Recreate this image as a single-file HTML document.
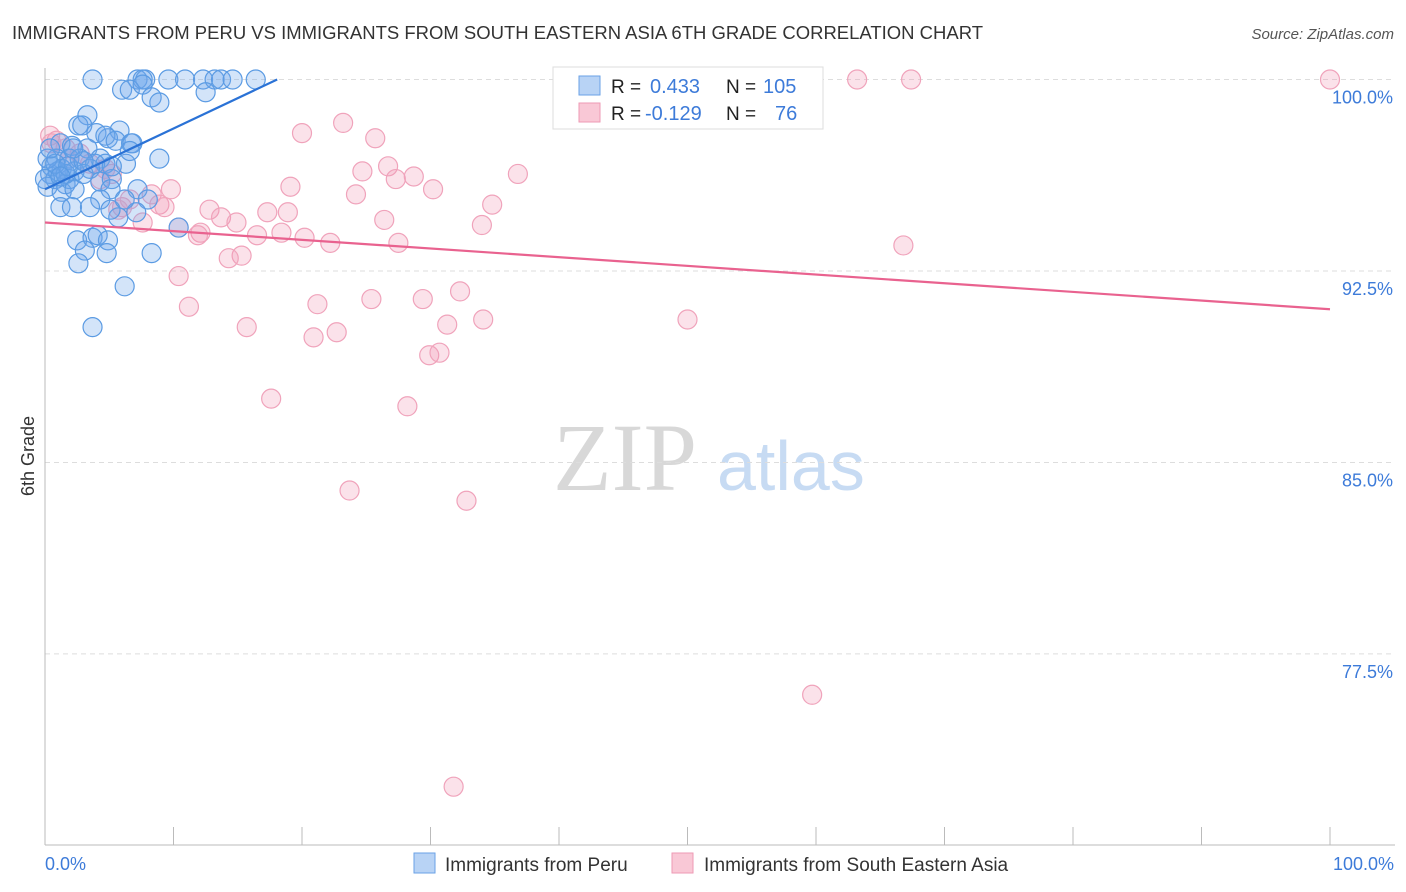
<!DOCTYPE html>
<html><head><meta charset="utf-8"><style>
body{margin:0;background:#fff;font-family:"Liberation Sans",sans-serif}
svg{display:block}
</style></head><body>
<svg id="chart" width="1406" height="892" xmlns="http://www.w3.org/2000/svg">
<text x="12" y="39" font-size="18" fill="#333" textLength="971" lengthAdjust="spacingAndGlyphs">IMMIGRANTS FROM PERU VS IMMIGRANTS FROM SOUTH EASTERN ASIA 6TH GRADE CORRELATION CHART</text>
<text x="1394" y="39" font-size="15" fill="#555" text-anchor="end" font-style="italic">Source: ZipAtlas.com</text>
<text x="553" y="490" font-size="96" font-family="Liberation Serif,serif" fill="#d8d8d8">ZIP</text>
<text x="717" y="490" font-size="70" fill="#c7dbf3">atlas</text>
<g id="grid"></g>
<g id="axes"></g>
<g id="pts"></g>
<g id="lines"></g>
<text transform="translate(34,456) rotate(-90)" font-size="18" fill="#333" text-anchor="middle">6th Grade</text>
<text x="45" y="870" font-size="18" fill="#3d7bd9">0.0%</text>
<text x="1394" y="870" font-size="18" fill="#3d7bd9" text-anchor="end">100.0%</text>
<g>
<rect x="553" y="67" width="270" height="62" fill="#fff" stroke="#ddd"/>
<rect x="579" y="76" width="21" height="19" fill="#b8d3f5" stroke="#6aa2e6"/>
<rect x="579" y="103" width="21" height="19" fill="#f9c8d6" stroke="#ee9ab4"/>
<text x="611" y="93" font-size="19" fill="#222">R = </text><text x="650" y="93" font-size="20" fill="#3d7bd9">0.433</text>
<text x="726" y="93" font-size="19" fill="#222">N = </text><text x="763" y="93" font-size="20" fill="#3d7bd9">105</text>
<text x="611" y="120" font-size="19" fill="#222">R = </text><text x="645" y="120" font-size="20" fill="#3d7bd9">-0.129</text>
<text x="726" y="120" font-size="19" fill="#222">N = </text><text x="775" y="120" font-size="20" fill="#3d7bd9">76</text>
</g>
<g>
<rect x="414" y="853" width="21" height="20" fill="#b8d3f5" stroke="#6aa2e6"/>
<text x="445" y="871" font-size="19" fill="#333">Immigrants from Peru</text></g>
<g>
<rect x="672" y="853" width="21" height="20" fill="#f9c8d6" stroke="#ee9ab4"/>
<text x="704" y="871" font-size="19" fill="#333">Immigrants from South Eastern Asia</text></g>
</svg>
<script>
const yTicks=[100,92.5,85,77.5];
const yTickLabels=["100.0%","92.5%","85.0%","77.5%"];
const xTicks=[0,10,20,30,40,50,60,70,80,90,100];
const peruX=[3.7,7.2,7.8,7.6,9.6,10.9,12.3,13.2,13.7,14.6,16.4,6.0,6.6,7.6,12.5,8.3,8.9,3.3,2.6,2.9,4.0,5.8,4.9,4.7,5.5,6.7,6.8,8.9,6.3,1.2,2.1,3.3,0.9,1.9,2.7,4.3,4.7,3.5,1.3,2.3,0.4,0.8,1.6,1.9,4.3,5.2,0.2,1.3,2.3,5.1,7.2,8.0,4.3,1.2,2.1,3.5,5.7,7.1,10.4,2.5,3.7,4.1,4.9,3.1,4.8,8.3,2.6,6.2,3.7,0.5,1.0,1.6,0.2,3.0,3.9,5.2,6.6,0.8,1.8,3.0,2.2,0.4,0,1.2,5.1,6.2];
const peruY=[100,100,100,100,100,100,100,100,100,100,100,99.6,99.6,99.8,99.5,99.3,99.1,98.6,98.2,98.2,97.9,98.0,97.7,97.8,97.6,97.5,97.5,96.9,96.7,97.5,97.4,97.3,96.9,96.9,96.9,96.9,96.7,96.5,96.5,96.4,96.3,96.1,95.9,96.1,96.0,96.1,95.8,95.6,95.7,95.7,95.7,95.3,95.3,95.0,95.0,95.0,94.6,94.8,94.2,93.7,93.8,93.9,93.7,93.3,93.2,93.2,92.8,91.9,90.3,96.6,96.4,96.3,96.9,96.3,96.7,96.6,97.2,96.7,96.6,96.8,97.3,97.3,96.1,96.2,94.9,95.3];
const seaX=[63.2,67.4,100,23.2,20.0,25.7,0.9,0.4,1.6,1.9,2.7,24.7,26.7,27.3,28.7,30.2,36.8,19.1,24.2,9.8,8.3,6.0,8.9,9.3,12.8,13.7,14.9,17.3,18.9,26.4,34.8,34.0,10.4,12.1,11.9,16.5,18.4,20.2,22.2,27.5,66.8,15.3,14.3,10.4,11.2,21.2,25.4,29.4,32.3,15.7,20.9,22.7,31.3,34.1,50.0,29.9,30.7,17.6,28.2,23.7,32.8,59.7,31.8,4.3,5.2,6.6,7.6,3.5,4.7,0.5,5.7];
const seaY=[100,100,100,98.3,97.9,97.7,97.6,97.8,97.3,96.9,97.1,96.4,96.6,96.1,96.2,95.7,96.3,95.8,95.5,95.7,95.5,95.0,95.1,95.0,94.9,94.6,94.4,94.8,94.8,94.5,95.1,94.3,94.2,94.0,93.9,93.9,94.0,93.8,93.6,93.6,93.5,93.1,93.0,92.3,91.1,91.2,91.4,91.4,91.7,90.3,89.9,90.1,90.4,90.6,90.6,89.2,89.3,87.5,87.2,83.9,83.5,75.9,72.3,96.1,96.3,95.3,94.4,96.7,96.5,97.5,94.9];
const trendIntercept=[95.7,94.4];
const trendSlope=[0.238,-0.034];
const NS="http://www.w3.org/2000/svg";
const X=v=>45+v*12.85, Y=v=>79.5+(100-v)*25.53;
function mk(tag,attrs,parent){const e=document.createElementNS(NS,tag);for(const k in attrs)e.setAttribute(k,attrs[k]);parent.appendChild(e);return e;}
const grid=document.getElementById('grid'),axes=document.getElementById('axes'),pts=document.getElementById('pts'),lines=document.getElementById('lines');
yTicks.forEach((t,i)=>{
 const l=mk('line',{x1:45,x2:1395,y1:Y(t),y2:Y(t),stroke:'#ddd','stroke-dasharray':'5,4'},grid);
 
 
 const tx=mk('text',{x:1393,y:Y(t)+24,'font-size':18,fill:'#3d7bd9','text-anchor':'end'},grid);
 tx.textContent=yTickLabels[i];
 
 
});
const ya=mk('line',{x1:45,x2:45,y1:68,y2:845,stroke:'#bbb'},axes);


const xa=mk('line',{x1:45,x2:1395,y1:845,y2:845,stroke:'#bbb'},axes);


xTicks.forEach(t=>{
 const l=mk('line',{x1:X(t),x2:X(t),y1:827,y2:845,stroke:'#bbb'},axes);
 
 
});
seaX.forEach((x,i)=>{
 const c=mk('circle',{cx:X(x),cy:Y(seaY[i]),r:9.5,fill:'rgba(242,150,180,0.28)',stroke:'#f0a3bb','stroke-width':1.2},pts);
 
 
});
peruX.forEach((x,i)=>{
 const c=mk('circle',{cx:X(x),cy:Y(peruY[i]),r:9.5,fill:'rgba(110,165,235,0.3)',stroke:'#5b9be3','stroke-width':1.2},pts);
 
 
});
const bx2=(100-trendIntercept[0])/trendSlope[0];
const bl=mk('line',{x1:X(0),y1:Y(trendIntercept[0]),x2:X(bx2),y2:Y(100),stroke:'#2a72d6','stroke-width':2.2},lines);


const pl=mk('line',{x1:X(0),y1:Y(trendIntercept[1]),x2:X(100),y2:Y(trendIntercept[1]+100*trendSlope[1]),stroke:'#e9628f','stroke-width':2.2},lines);


</script>
</body></html>
